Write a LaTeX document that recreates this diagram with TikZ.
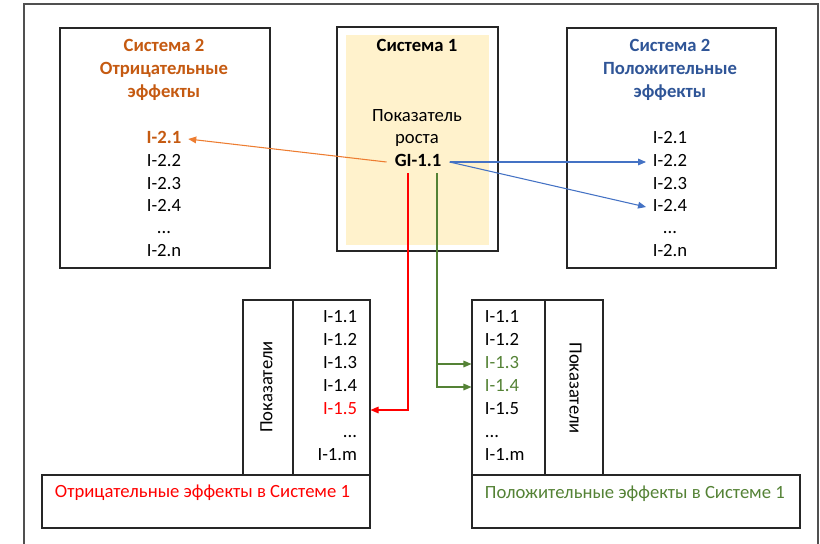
\documentclass[tikz,border=0pt]{standalone}
\usepackage{fontspec}
\setmainfont{Carlito}
\usetikzlibrary{arrows.meta,calc}
\definecolor{boxline}{HTML}{262626}
\definecolor{framegray}{HTML}{505050}
\definecolor{orangetxt}{HTML}{C55A11}
\definecolor{orangeln}{HTML}{ED7D31}
\definecolor{bluetxt}{HTML}{2F5597}
\definecolor{blueln}{HTML}{4472C4}
\definecolor{redc}{HTML}{FF0000}
\definecolor{greenc}{HTML}{548235}
\definecolor{sysfill}{HTML}{FFF2CC}
\begin{document}
\begin{tikzpicture}[x=0.75pt,y=-0.75pt,
  box/.style={draw=boxline, line width=0.8pt, inner sep=0pt},
  txt/.style={font=\fontsize{14}{16}\selectfont, text=black, text height=9.5pt, text depth=3pt, inner ysep=2pt, inner xsep=5pt},
  bold/.style={txt, font=\fontsize{14}{16}\selectfont\bfseries},
  tip/.style={-{Triangle[length=6pt,width=5pt]}, line width=0.8pt},
]
\useasboundingbox (0,0) rectangle (820,543);

% outer frame, open at the bottom
\draw[framegray, line width=1.3pt] (24,546) -- (24,4) -- (818,4) -- (818,546);

% ---------- upper boxes ----------
\node[box, minimum width=157.5pt, minimum height=180pt] (neg2) at (165,148) {};
\node[box, minimum width=120.75pt, minimum height=168pt] (sys1) at (417.5,139) {};
\node[fill=sysfill, inner sep=0pt, minimum width=107.25pt, minimum height=157.5pt] (sysin) at (417.5,140) {};
\node[box, minimum width=156.75pt, minimum height=180pt] (pos2) at (671.5,148) {};

% Система 2, negative effects
\node[bold, text=orangetxt] (n2t1) at (164,47) {Система 2};
\node[bold, text=orangetxt] (n2t2) at (164,70) {Отрицательные};
\node[bold, text=orangetxt] (n2t3) at (164,93) {эффекты};
\node[bold, text=orangetxt] (n21) at (164,139) {I-2.1};
\node[txt] (n22) at (164,162) {I-2.2};
\node[txt] (n23) at (164,185) {I-2.3};
\node[txt] (n24) at (164,207) {I-2.4};
\node[txt] (n2d) at (164,229) {...};
\node[txt] (n2n) at (164,252) {I-2.n};

% Система 1
\node[bold] (s1t) at (417,47) {Система 1};
\node[txt] (s1a) at (417,117) {Показатель};
\node[txt] (s1b) at (417,139) {роста};
\node[bold, inner xsep=6pt] (gi) at (418,162) {GI-1.1};

% Система 2, positive effects
\node[bold, text=bluetxt] (p2t1) at (670,47) {Система 2};
\node[bold, text=bluetxt] (p2t2) at (670,70) {Положительные};
\node[bold, text=bluetxt] (p2t3) at (670,93) {эффекты};
\node[txt] (p21) at (670,139) {I-2.1};
\node[txt] (p22) at (670,162) {I-2.2};
\node[txt] (p23) at (670,185) {I-2.3};
\node[txt] (p24) at (670,207) {I-2.4};
\node[txt] (p2d) at (670,229) {...};
\node[txt] (p2n) at (670,252) {I-2.n};

% ---------- lower left: negative effects in Система 1 ----------
\node[box, minimum width=37.5pt, minimum height=131.25pt] (nlab) at (268,387.5) {};
\node[box, minimum width=57.75pt, minimum height=131.25pt] (nitems) at (331.5,387.5) {};
\node[box, minimum width=246pt, minimum height=39.75pt] (nbot) at (206,501.5) {};
\node[txt, rotate=90] (nlabt) at (268,387) {Показатели};
\node[txt, anchor=east] (n11) at (364,318) {I-1.1};
\node[txt, anchor=east] (n12) at (364,341) {I-1.2};
\node[txt, anchor=east] (n13) at (364,364) {I-1.3};
\node[txt, anchor=east] (n14) at (364,387) {I-1.4};
\node[txt, anchor=east, text=redc] (n15) at (364,410) {I-1.5};
\node[txt, anchor=east] (n1d) at (364,433) {...};
\node[txt, anchor=east] (n1m) at (364,456) {I-1.m};
\node[txt, anchor=west, text=redc] (nbt) at (48,493) {Отрицательные эффекты в Системе 1};

% ---------- lower right: positive effects in Система 1 ----------
\node[box, minimum width=54.75pt, minimum height=131.25pt] (pitems) at (508.5,387.5) {};
\node[box, minimum width=43.5pt, minimum height=131.25pt] (plab) at (574,387.5) {};
\node[box, minimum width=246pt, minimum height=39.75pt] (pbot) at (636,501.5) {};
\node[txt, rotate=-90] (plabt) at (574,388) {Показатели};
\node[txt, anchor=west] (p11) at (478,318) {I-1.1};
\node[txt, anchor=west] (p12) at (478,341) {I-1.2};
\node[txt, anchor=west, text=greenc] (p13) at (478,364) {I-1.3};
\node[txt, anchor=west, text=greenc] (p14) at (478,387) {I-1.4};
\node[txt, anchor=west] (p15) at (478,410) {I-1.5};
\node[txt, anchor=west] (p1d) at (478,433) {...};
\node[txt, anchor=west] (p1m) at (478,456) {I-1.m};
\node[txt, anchor=west, text=greenc] (pbt) at (478,494) {Положительные эффекты в Системе 1};

% ---------- connectors ----------
\coordinate (redx) at ([xshift=-7.5pt]gi.south);
\coordinate (greenx) at ([xshift=14.25pt]gi.south);

\draw[tip, orangeln] (gi.west) -- (n21.east);
\draw[tip, blueln] (gi.east) -- (p22.west);
\draw[tip, blueln] (gi.east) -- (p24.west);
\draw[tip, redc] (redx) |- (n15 -| nitems.east);
\draw[tip, greenc] (greenx) |- (p14 -| pitems.west);
\draw[tip, greenc] (greenx |- p13) -- (p13 -| pitems.west);
\end{tikzpicture}
\end{document}
